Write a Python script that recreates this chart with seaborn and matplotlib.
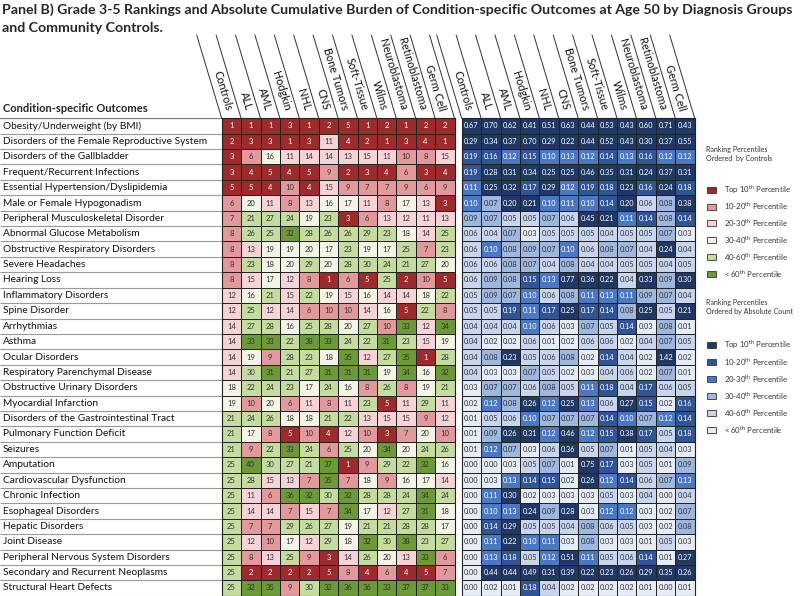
import numpy as np
import pandas as pd
import matplotlib
matplotlib.use("Agg")
import matplotlib.pyplot as plt
import seaborn as sns
from matplotlib.colors import ListedColormap
from matplotlib.patches import Rectangle

# --- data ---
outcomes = [
    "Obesity/Underweight (by BMI)", "Disorders of the Female Reproductive System",
    "Disorders of the Gallbladder", "Frequent/Recurrent Infections",
    "Essential Hypertension/Dyslipidemia", "Male or Female Hypogonadism",
    "Peripheral Musculoskeletal Disorder", "Abnormal Glucose Metabolism",
    "Obstructive Respiratory Disorders", "Severe Headaches", "Hearing Loss",
    "Inflammatory Disorders", "Spine Disorder", "Arrhythmias", "Asthma",
    "Ocular Disorders", "Respiratory Parenchymal Disease",
    "Obstructive Urinary Disorders", "Myocardial Infarction",
    "Disorders of the Gastrointestinal Tract", "Pulmonary Function Deficit",
    "Seizures", "Amputation", "Cardiovascular Dysfunction", "Chronic Infection",
    "Esophageal Disorders", "Hepatic Disorders", "Joint Disease",
    "Peripheral Nervous System Disorders", "Secondary and Recurrent Neoplasms",
    "Structural Heart Defects",
]
groups = ["Controls", "ALL", "AML", "Hodgkin", "NHL", "CNS", "Bone Tumors",
          "Soft-Tissue", "Wilms", "Neuroblastoma", "Retinoblastoma", "Germ Cell"]

# rankings (left block), one list per group
rank_controls = [1, 2, 3, 3, 5, 6, 7, 8, 8, 8, 8, 12, 12, 14, 14, 14, 14, 18, 19, 21, 21, 21, 25, 25, 25, 25, 25, 25, 25, 25, 25]
rank_all = [1, 3, 6, 4, 5, 20, 21, 26, 13, 23, 15, 16, 25, 27, 33, 19, 30, 22, 10, 24, 17, 9, 40, 28, 11, 14, 7, 12, 8, 2, 32]
rank_aml = [1, 3, 16, 5, 4, 11, 27, 25, 19, 18, 17, 21, 12, 28, 33, 9, 31, 24, 20, 26, 8, 22, 30, 15, 6, 14, 7, 10, 13, 2, 35]
rank_hodgkin = [3, 1, 11, 4, 10, 8, 24, 32, 19, 20, 12, 15, 14, 16, 22, 28, 21, 23, 6, 18, 5, 33, 27, 13, 36, 7, 29, 17, 25, 2, 9]
rank_nhl = [1, 3, 14, 5, 4, 13, 19, 28, 20, 29, 8, 22, 6, 25, 38, 23, 27, 17, 11, 18, 10, 24, 21, 7, 32, 15, 26, 12, 9, 2, 30]
rank_cns = [2, 11, 14, 9, 15, 16, 23, 26, 17, 20, 1, 19, 10, 28, 33, 18, 31, 24, 8, 21, 4, 6, 37, 35, 30, 7, 27, 29, 3, 5, 32]
rank_bone = [5, 4, 13, 2, 9, 17, 3, 26, 23, 28, 6, 15, 10, 20, 24, 35, 31, 16, 11, 22, 12, 25, 1, 7, 32, 34, 19, 18, 14, 8, 36]
rank_soft = [1, 2, 15, 3, 7, 11, 6, 29, 19, 30, 5, 16, 14, 27, 22, 12, 31, 8, 23, 13, 10, 20, 9, 18, 28, 17, 21, 32, 26, 4, 36]
rank_wilms = [2, 1, 11, 4, 7, 8, 13, 23, 17, 24, 25, 14, 16, 10, 31, 27, 19, 26, 5, 15, 3, 34, 29, 9, 28, 12, 21, 30, 20, 6, 33]
rank_neuro = [1, 3, 10, 6, 9, 17, 12, 18, 25, 21, 2, 14, 5, 33, 23, 35, 34, 8, 11, 15, 7, 20, 22, 16, 24, 27, 28, 38, 13, 4, 37]
rank_retino = [2, 4, 8, 3, 6, 13, 11, 14, 7, 27, 10, 18, 22, 12, 15, 1, 16, 19, 29, 9, 20, 24, 32, 17, 34, 31, 28, 23, 33, 5, 37]
rank_germ = [2, 1, 15, 4, 9, 3, 13, 25, 23, 20, 5, 22, 8, 34, 19, 28, 32, 21, 11, 12, 10, 26, 16, 14, 24, 18, 17, 27, 6, 7, 33]

# absolute cumulative burden (right block)
burden_controls = [0.67, 0.29, 0.19, 0.19, 0.11, 0.10, 0.09, 0.06, 0.06, 0.06, 0.06, 0.05, 0.05, 0.04, 0.04, 0.04, 0.04, 0.03, 0.02, 0.01, 0.01, 0.01, 0.00, 0.00, 0.00, 0.00, 0.00, 0.00, 0.00, 0.00, 0.00]
burden_all = [0.70, 0.34, 0.16, 0.28, 0.25, 0.07, 0.07, 0.04, 0.10, 0.06, 0.09, 0.09, 0.05, 0.04, 0.02, 0.08, 0.03, 0.07, 0.12, 0.05, 0.09, 0.12, 0.00, 0.03, 0.11, 0.10, 0.14, 0.11, 0.13, 0.44, 0.02]
burden_aml = [0.62, 0.37, 0.12, 0.31, 0.32, 0.20, 0.05, 0.07, 0.08, 0.08, 0.08, 0.07, 0.19, 0.04, 0.02, 0.23, 0.03, 0.07, 0.08, 0.06, 0.26, 0.07, 0.03, 0.13, 0.30, 0.13, 0.29, 0.22, 0.18, 0.44, 0.01]
burden_hodgkin = [0.41, 0.70, 0.15, 0.34, 0.17, 0.21, 0.05, 0.03, 0.09, 0.07, 0.15, 0.10, 0.11, 0.10, 0.06, 0.05, 0.07, 0.06, 0.26, 0.10, 0.31, 0.03, 0.05, 0.14, 0.02, 0.24, 0.05, 0.10, 0.05, 0.49, 0.18]
burden_nhl = [0.51, 0.29, 0.10, 0.25, 0.29, 0.10, 0.07, 0.05, 0.07, 0.04, 0.13, 0.06, 0.17, 0.06, 0.01, 0.06, 0.05, 0.08, 0.12, 0.07, 0.12, 0.06, 0.07, 0.15, 0.03, 0.09, 0.05, 0.11, 0.12, 0.31, 0.04]
burden_cns = [0.63, 0.22, 0.13, 0.25, 0.12, 0.11, 0.06, 0.05, 0.10, 0.08, 0.77, 0.08, 0.25, 0.03, 0.02, 0.08, 0.02, 0.05, 0.25, 0.07, 0.46, 0.36, 0.01, 0.02, 0.03, 0.28, 0.04, 0.03, 0.51, 0.39, 0.02]
burden_bone = [0.44, 0.44, 0.12, 0.46, 0.19, 0.10, 0.45, 0.05, 0.06, 0.04, 0.36, 0.11, 0.17, 0.07, 0.06, 0.02, 0.03, 0.11, 0.13, 0.07, 0.12, 0.05, 0.75, 0.26, 0.03, 0.03, 0.08, 0.08, 0.11, 0.22, 0.02]
burden_soft = [0.53, 0.52, 0.14, 0.35, 0.18, 0.14, 0.21, 0.04, 0.08, 0.04, 0.22, 0.13, 0.14, 0.05, 0.06, 0.14, 0.04, 0.18, 0.06, 0.14, 0.15, 0.07, 0.17, 0.12, 0.05, 0.12, 0.06, 0.03, 0.05, 0.23, 0.02]
burden_wilms = [0.43, 0.43, 0.13, 0.31, 0.23, 0.20, 0.11, 0.05, 0.07, 0.05, 0.04, 0.11, 0.08, 0.14, 0.02, 0.04, 0.06, 0.04, 0.27, 0.10, 0.38, 0.01, 0.03, 0.14, 0.03, 0.12, 0.05, 0.03, 0.06, 0.26, 0.02]
burden_neuro = [0.60, 0.30, 0.16, 0.24, 0.16, 0.06, 0.14, 0.05, 0.04, 0.05, 0.33, 0.09, 0.25, 0.03, 0.04, 0.02, 0.02, 0.17, 0.15, 0.07, 0.17, 0.05, 0.05, 0.06, 0.04, 0.03, 0.03, 0.01, 0.14, 0.29, 0.01]
burden_retino = [0.71, 0.37, 0.12, 0.37, 0.24, 0.08, 0.08, 0.07, 0.24, 0.04, 0.09, 0.07, 0.05, 0.08, 0.07, 1.42, 0.07, 0.06, 0.02, 0.12, 0.05, 0.04, 0.01, 0.07, 0.00, 0.02, 0.02, 0.05, 0.01, 0.35, 0.00]
burden_germ = [0.43, 0.55, 0.12, 0.31, 0.18, 0.38, 0.14, 0.03, 0.04, 0.05, 0.30, 0.04, 0.21, 0.01, 0.05, 0.02, 0.01, 0.05, 0.16, 0.14, 0.18, 0.03, 0.09, 0.13, 0.04, 0.07, 0.08, 0.03, 0.27, 0.26, 0.01]

legend_labels = [r"Top 10$^{\rm th}$ Percentile", r"10-20$^{\rm th}$ Percentile",
                 r"20-30$^{\rm th}$ Percentile", r"30-40$^{\rm th}$ Percentile",
                 r"40-60$^{\rm th}$ Percentile", r"< 60$^{\rm th}$ Percentile"]

# --- colours ---
red_cols = ["#9e2a2b", "#e3999c", "#f6d3d6", "#f3f3e6", "#c5dc9f", "#6b9a36"]
blue_cols = ["#1f3864", "#2f5597", "#4a78c2", "#9db7df", "#c7d6ee", "#e6ecf6"]

rank_df = pd.DataFrame(dict(zip(groups, [rank_controls, rank_all, rank_aml, rank_hodgkin, rank_nhl,
                                         rank_cns, rank_bone, rank_soft, rank_wilms, rank_neuro,
                                         rank_retino, rank_germ])), index=outcomes)
burden_df = pd.DataFrame(dict(zip(groups, [burden_controls, burden_all, burden_aml, burden_hodgkin,
                                           burden_nhl, burden_cns, burden_bone, burden_soft,
                                           burden_wilms, burden_neuro, burden_retino, burden_germ])),
                         index=outcomes)

# category per cell (0 = top bin)
rank_cat = pd.DataFrame(np.digitize(rank_df.values, [5.5, 10.5, 15.5, 20.5, 30.5]),
                        index=outcomes, columns=groups)
burden_cat = pd.DataFrame(5 - np.digitize(burden_df.values, [0.035, 0.065, 0.095, 0.135, 0.195]),
                          index=outcomes, columns=groups)

sns.set_theme(style="white")
plt.rcParams["font.family"] = ["Lato", "DejaVu Sans"]
plt.rcParams["mathtext.fontset"] = "custom"
plt.rcParams["mathtext.rm"] = "Lato"

W, H = 800, 596
fig = plt.figure(figsize=(8, 5.96), dpi=100)


def box(x0, y0, x1, y1):
    return [x0 / W, 1 - y1 / H, (x1 - x0) / W, (y1 - y0) / H]


TOP, BOT = 118.3, 595.7
LX0, LX1 = 221.7, 454.5
RX0, RX1 = 461.7, 694.7
ax_l = fig.add_axes(box(LX0, TOP, LX1, BOT))
ax_r = fig.add_axes(box(RX0, TOP, RX1, BOT))
ax_lab = fig.add_axes(box(0, TOP, LX0, BOT))

sns.heatmap(rank_cat, ax=ax_l, cmap=ListedColormap(red_cols), vmin=-0.5, vmax=5.5,
            annot=rank_df.values, fmt="d", annot_kws={"size": 5.5},
            cbar=False, linewidths=0.7, linecolor="#222222")
sns.heatmap(burden_cat, ax=ax_r, cmap=ListedColormap(blue_cols), vmin=-0.5, vmax=5.5,
            annot=burden_df.values, fmt=".2f", annot_kws={"size": 5.3},
            cbar=False, linewidths=0.7, linecolor="#222222")

for ax, cats, light_from in [(ax_l, rank_cat, 1), (ax_r, burden_cat, 3)]:
    for t, c in zip(ax.texts, cats.values.flat):
        t.set_color("white" if c < light_from else "#333333")
    ax.set_xticks([])
    ax.set_yticks([])
    ax.set_xlabel("")
    ax.set_ylabel("")
    for s in ax.spines.values():
        s.set_visible(True)
        s.set_color("#222222")
        s.set_linewidth(0.8)

# row labels
ax_lab.set_xlim(0, LX0)
ax_lab.set_ylim(len(outcomes), 0)
ax_lab.axis("off")
for i, name in enumerate(outcomes):
    ax_lab.text(3, i + 0.5, name, va="center", ha="left", fontsize=7.3, color="#111111")
ax_lab.hlines(np.arange(1, len(outcomes) + 1), 0, LX0, color="#9a9a9a", lw=0.8)
ax_lab.hlines(0, 0, LX0, color="#777777", lw=1.6)

# overlay in pixel coords for header and legend
ov = fig.add_axes([0, 0, 1, 1])
ov.set_xlim(0, W)
ov.set_ylim(H, 0)
ov.axis("off")

ov.text(2, 10, "Panel B) Grade 3-5 Rankings and Absolute Cumulative Burden of Condition-specific "
        "Outcomes at Age 50 by Diagnosis Groups", fontsize=10.2, fontweight="bold", va="center")
ov.text(2, 28, "and Community Controls.", fontsize=10.2, fontweight="bold", va="center")
ov.text(3, 108, "Condition-specific Outcomes", fontsize=8, fontweight="bold", va="center")

# slanted column headers
LINE_TOP, DX = 35, 25
ang = np.degrees(np.arctan2(TOP - LINE_TOP, DX))
for x0, x1 in [(LX0, LX1), (RX0, RX1)]:
    edges = np.linspace(x0, x1, len(groups) + 1)
    for xb in edges:
        ov.plot([xb, xb - DX], [TOP, LINE_TOP], color="#333333", lw=0.7)
    centers = (edges[:-1] + edges[1:]) / 2
    y_end = 110
    for xc, g in zip(centers, groups):
        xe = xc - (TOP - y_end) * DX / (TOP - LINE_TOP)
        ov.text(xe, y_end, g, rotation=-ang, rotation_mode="anchor", ha="right", va="center",
                fontsize=7.8, color="#111111")

# legends
def draw_legend(title, y_title, ys, colors):
    ov.text(706, y_title, title, fontsize=5.1, va="top", ha="left", color="#333333", linespacing=1.3)
    for y, c, lab in zip(ys, colors, legend_labels):
        ov.add_patch(Rectangle((707, y - 3), 9, 6, facecolor=c, edgecolor="#333333", lw=0.6))
        ov.text(724, y, lab, fontsize=5.6, va="center", ha="left", color="#333333")


draw_legend("Ranking Percentiles\nOrdered  by Controls", 146, [190, 206.5, 223, 240, 257, 274], red_cols)
draw_legend("Ranking Percentiles\nOrdered by Absolute Count", 299, [345, 362, 379, 396, 413, 430], blue_cols)

fig.savefig("out.png", dpi=100)
